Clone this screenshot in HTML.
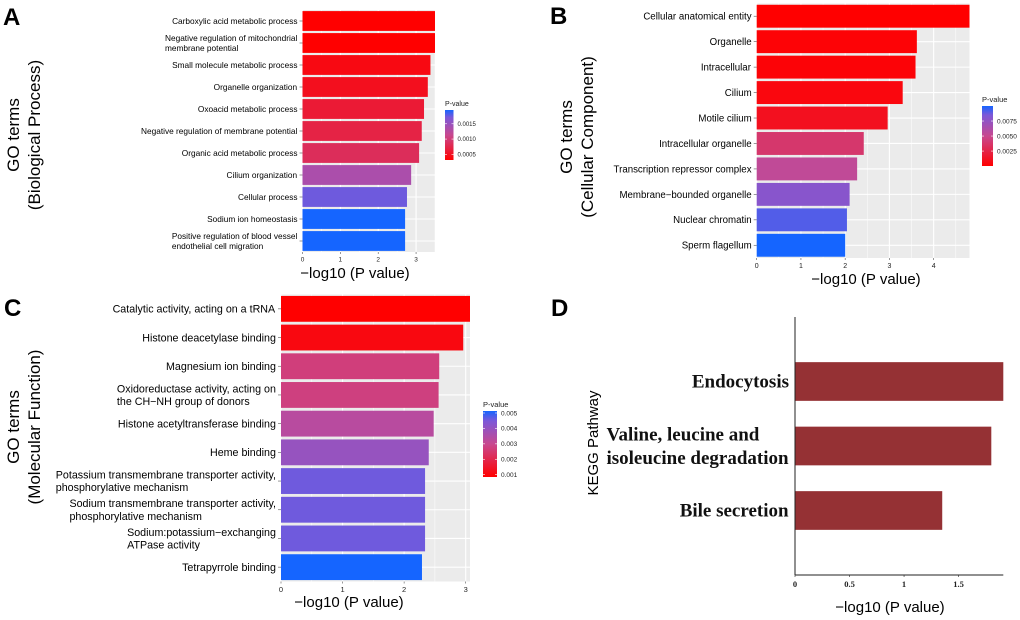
<!DOCTYPE html>
<html><head><meta charset="utf-8"><style>
html,body{margin:0;padding:0;background:#fff;}
svg{display:block;}
text{font-family:"Liberation Sans",Arial,sans-serif;}
.serif{font-family:"Liberation Serif","Times New Roman",serif;}
</style></head><body>
<svg id="fig" width="1020" height="620" viewBox="0 0 1020 620" xmlns="http://www.w3.org/2000/svg">
<defs>
<linearGradient id="pgrad" x1="0" y1="1" x2="0" y2="0">
<stop offset="0" stop-color="#ff0000"/><stop offset="0.5" stop-color="#c8488f"/><stop offset="0.85" stop-color="#7c58d8"/><stop offset="1" stop-color="#1565ff"/>
</linearGradient>
</defs>
</svg>
<script>
// ---- data ----
const aLabels=["Carboxylic acid metabolic process","Negative regulation of mitochondrial\nmembrane potential","Small molecule metabolic process","Organelle organization","Oxoacid metabolic process","Negative regulation of membrane potential","Organic acid metabolic process","Cilium organization","Cellular process","Sodium ion homeostasis","Positive regulation of blood vessel\nendothelial cell migration"];
const aValues=[3.50,3.50,3.38,3.31,3.21,3.15,3.08,2.87,2.76,2.71,2.71];
const aTicks=[0,1,2,3];
const aLegendTicks=["0.0015","0.0010","0.0005"];
const aLegendVals=[0.0015,0.0010,0.0005];

const bLabels=["Cellular anatomical entity","Organelle","Intracellular","Cilium","Motile cilium","Intracellular organelle","Transcription repressor complex","Membrane\u2212bounded organelle","Nuclear chromatin","Sperm flagellum"];
const bValues=[4.81,3.62,3.59,3.30,2.96,2.42,2.27,2.10,2.04,2.00];
const bTicks=[0,1,2,3,4];
const bLegendTicks=["0.0075","0.0050","0.0025"];
const bLegendVals=[0.0075,0.0050,0.0025];

const cLabels=["Catalytic activity, acting on a tRNA","Histone deacetylase binding","Magnesium ion binding","Oxidoreductase activity, acting on\nthe CH\u2212NH group of donors","Histone acetyltransferase binding","Heme binding","Potassium transmembrane transporter activity,\nphosphorylative mechanism","Sodium transmembrane transporter activity,\nphosphorylative mechanism","Sodium:potassium\u2212exchanging\nATPase activity","Tetrapyrrole binding"];
const cValues=[3.07,2.96,2.57,2.56,2.48,2.40,2.34,2.34,2.34,2.29];
const cTicks=[0,1,2,3];
const cLegendTicks=["0.005","0.004","0.003","0.002","0.001"];
const cLegendVals=[0.005,0.004,0.003,0.002,0.001];

const dLabels=["Endocytosis","Valine, leucine and\nisoleucine degradation","Bile secretion"];
const dValues=[1.91,1.80,1.35];
const dTicks=[0,0.5,1,1.5];
const dTickLabels=["0","0.5","1","1.5"];

// ---- helpers ----
const svg=document.getElementById('fig');
const NS='http://www.w3.org/2000/svg';
function mk(tag,attrs,parent){const e=document.createElementNS(NS,tag);for(const k in attrs)e.setAttribute(k,attrs[k]);(parent||svg).appendChild(e);return e;}
function lerp(a,b,t){return a+(b-a)*t;}
function hex(c){return [parseInt(c.slice(1,3),16),parseInt(c.slice(3,5),16),parseInt(c.slice(5,7),16)];}
const stops=[[0,hex('#ff0000')],[0.5,hex('#c8488f')],[0.85,hex('#7c58d8')],[1,hex('#1565ff')]];
function colorAt(t){t=Math.max(0,Math.min(1,t));let i=0;while(i<stops.length-2&&t>stops[i+1][0])i++;const s0=stops[i],s1=stops[i+1];const u=(t-s0[0])/(s1[0]-s0[0]);
 return 'rgb('+[0,1,2].map(k=>Math.round(lerp(s0[1][k],s1[1][k],u))).join(',')+')';}

function goPanel(o){
 const g=mk('g',{});
 
 
 const n=o.labels.length;
 const vmax=Math.max(...o.values);
 const xs=v=>o.x0+(o.x1-o.x0)*v/vmax;
 const step=(o.y1-o.y0)/n;
 const yc=i=>o.y0+step*(i+0.5);
 const bg=mk('rect',{x:o.x0,y:o.y0,width:o.x1-o.x0,height:o.y1-o.y0,fill:'#ebebeb'},g);
 
 
 for(let v=0;v<=vmax+1e-9;v+=0.5){const x=xs(v);mk('line',{x1:x,x2:x,y1:o.y0,y2:o.y1,stroke:'#fff','stroke-width':Math.abs(v-Math.round(v))<1e-9?1.1:0.5},g);}
 for(let i=0;i<n;i++){mk('line',{x1:o.x0,x2:o.x1,y1:yc(i),y2:yc(i),stroke:'#fff','stroke-width':1.1},g);}
 const ps=o.values.map(v=>Math.pow(10,-v));
 const pmin=Math.min(...ps),pmax=Math.max(...ps);
 for(let i=0;i<n;i++){
  const h=step*0.9;
  const r=mk('rect',{x:o.x0,y:yc(i)-h/2,width:xs(o.values[i])-o.x0,height:h,fill:colorAt((ps[i]-pmin)/(pmax-pmin))},g);
  
  
  mk('line',{x1:o.x0-3,x2:o.x0,y1:yc(i),y2:yc(i),stroke:'#555','stroke-width':0.6},g);
  const lines=o.labels[i].split('\n');
  const t=mk('text',{'font-size':o.fs,fill:'#000'},g);
  
  
  const lh=o.fs*1.2;
  lines.forEach((ln,j)=>{const ts=mk('tspan',{x:0,y:yc(i)+o.fs*0.35+(j-(lines.length-1)/2)*lh},t);ts.textContent=ln;});
  const w=t.getBBox().width;
  const left=o.x0-5-w;
  Array.from(t.children).forEach(ts=>ts.setAttribute('x',left));
 }
 o.ticks.forEach(v=>{const x=xs(v);mk('line',{x1:x,x2:x,y1:o.y1,y2:o.y1+2,stroke:'#555','stroke-width':0.6},g);
  const t=mk('text',{x:x,y:o.y1+o.tfs+3,'font-size':o.tfs,'text-anchor':'middle',fill:'#222'},g);t.textContent=String(v);
  });
 const xt=mk('text',{x:o.xtx,y:o.xty,'font-size':15,'text-anchor':'middle',fill:'#000'},g);xt.textContent='\u2212log10 (P value)';
 
 const yt=mk('text',{transform:'translate('+o.ytx+','+o.yty+') rotate(-90)','font-size':17,'text-anchor':'middle',fill:'#000'},g);
 
 const s1=mk('tspan',{x:0,y:0},yt);s1.textContent='GO terms';
 const s2=mk('tspan',{x:0,y:21},yt);s2.textContent=o.ytitle;
 const L=o.leg;
 const lg=mk('g',{},g);
 
 const lt=mk('text',{x:L.x,y:L.y-4,'font-size':L.fs+1,fill:'#222'},lg);lt.textContent='P-value';
 mk('rect',{x:L.x,y:L.y,width:L.w,height:L.h,fill:'url(#pgrad)'},lg);
 L.vals.forEach((pv,k)=>{const yy=L.y+L.h*(1-(pv-pmin)/(pmax-pmin));
  mk('line',{x1:L.x,x2:L.x+2,y1:yy,y2:yy,stroke:'#fff','stroke-width':0.6},lg);
  mk('line',{x1:L.x+L.w-2,x2:L.x+L.w,y1:yy,y2:yy,stroke:'#fff','stroke-width':0.6},lg);
  const tt=mk('text',{x:L.x+L.w+4,y:yy+L.fs*0.35,'font-size':L.fs,fill:'#222'},lg);tt.textContent=L.labels[k];});
}

function letter(ch,x,y){const t=mk('text',{x:x,y:y,'font-size':24,'font-weight':'bold',fill:'#000'});t.textContent=ch;
 }

letter('A',3,25);letter('B',550,24);letter('C',4,316);letter('D',551,316);

goPanel({name:'panel-a-biological-process',labels:aLabels,values:aValues,ticks:aTicks,x0:302.5,x1:435,y0:10,y1:252,fs:8.3,tfs:6.5,
 xtx:355,xty:278,ytx:19,yty:135,ytitle:'(Biological Process)',
 leg:{x:445,y:110,w:8.5,h:50,fs:6,vals:aLegendVals,labels:aLegendTicks}});
goPanel({name:'panel-b-cellular-component',labels:bLabels,values:bValues,ticks:bTicks,x0:756.7,x1:969.5,y0:3.5,y1:258,fs:9.7,tfs:7,
 xtx:866,xty:284,ytx:572,yty:137,ytitle:'(Cellular Component)',
 leg:{x:982,y:106,w:11,h:60,fs:6.5,vals:bLegendVals,labels:bLegendTicks}});
goPanel({name:'panel-c-molecular-function',labels:cLabels,values:cValues,ticks:cTicks,x0:281,x1:470,y0:294.5,y1:581.5,fs:10.7,tfs:7.5,
 xtx:349,xty:607,ytx:19,yty:427,ytitle:'(Molecular Function)',
 leg:{x:483,y:411,w:14,h:66,fs:6.5,vals:cLegendVals,labels:cLegendTicks}});

// ---- panel D ----
(function(){
 const g=mk('g',{});
 
 
 const x0=795,x1=1003.3,y0=317,y1=575;
 const vmax=Math.max(...dValues);
 const xs=v=>x0+(x1-x0)*v/vmax;
 const step=(y1-y0)/(dLabels.length+1);
 const yc=i=>y0+step*(i+1);
 dLabels.forEach((lab,i)=>{
  const h=step*0.6;
  const r=mk('rect',{x:x0,y:yc(i)-h/2,width:xs(dValues[i])-x0,height:h,fill:'#953134'},g);
  
  
  const lines=lab.split('\n');
  const t=mk('text',{'font-size':19,'font-weight':'bold',fill:'#111',class:'serif'},g);
  
  
  lines.forEach((ln,j)=>{const ts=mk('tspan',{x:0,y:yc(i)+6+(j-(lines.length-1)/2)*23.5},t);ts.textContent=ln;});
  const w=t.getBBox().width;
  Array.from(t.children).forEach(ts=>ts.setAttribute('x',x0-6-w));
 });
 mk('line',{x1:x0,x2:x0,y1:y0,y2:y1,stroke:'#222','stroke-width':1},g);
 mk('line',{x1:x0,x2:x1,y1:y1,y2:y1,stroke:'#222','stroke-width':1},g);
 dTicks.forEach((v,k)=>{const x=xs(v);mk('line',{x1:x,x2:x,y1:y1,y2:y1+2,stroke:'#222','stroke-width':0.6},g);
  const t=mk('text',{x:x,y:y1+12,'font-size':8.5,'font-weight':'bold','text-anchor':'middle',fill:'#222',class:'serif'},g);t.textContent=dTickLabels[k];
  });
 const xt=mk('text',{x:890,y:612,'font-size':15,'text-anchor':'middle',fill:'#000'},g);xt.textContent='\u2212log10 (P value)';
 
 const yt=mk('text',{transform:'translate(598,443) rotate(-90)','font-size':15,'text-anchor':'middle',fill:'#000'},g);yt.textContent='KEGG Pathway';
 
})();
</script>
</body></html>
